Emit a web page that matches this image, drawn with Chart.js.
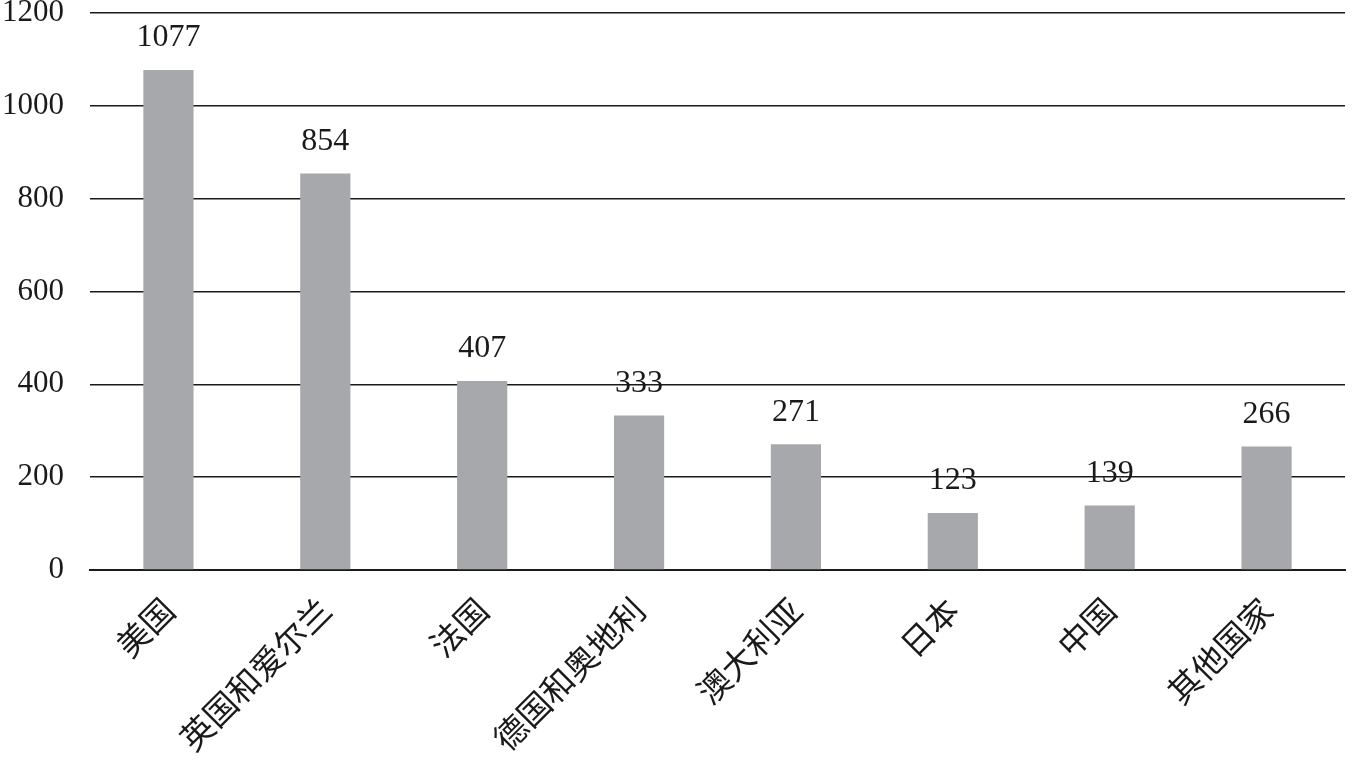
<!DOCTYPE html>
<html>
<head>
<meta charset="utf-8">
<script src="https://cdn.jsdelivr.net/npm/chart.js@4/dist/chart.umd.min.js"></script>
<style>
  html, body { margin: 0; padding: 0; background: #fff; }
  #wrap { width: 1356px; height: 762px; }
</style>
</head>
<body>
<div id="wrap"><canvas id="countries"></canvas></div>
<script>
const labels = ['美国', '英国和爱尔兰', '法国', '德国和奥地利', '澳大利亚', '日本', '中国', '其他国家'];
const counts = [1077, 854, 407, 333, 271, 123, 139, 266];
const yTicks = [0, 200, 400, 600, 800, 1000, 1200];

const serif = '"Liberation Serif", "DejaVu Serif", serif';
const cjk = '"Noto Sans CJK SC", sans-serif';

// draw the value above each bar
const valueLabels = {
    id: 'valueLabels',
    afterDatasetsDraw(chart) {
        const ctx = chart.ctx;
        const meta = chart.getDatasetMeta(0);
        ctx.save();
        ctx.font = '32px ' + serif;
        ctx.fillStyle = '#1a1a1a';
        ctx.textAlign = 'center';
        ctx.textBaseline = 'middle';
        meta.data.forEach((bar, i) => {
            ctx.fillText(counts[i], bar.x, bar.y - 32);
        });
        ctx.restore();
    }
};

const data = {
    labels: labels,
    datasets: [{
        data: counts,
        backgroundColor: '#a7a8ab',
        borderWidth: 0,
        categoryPercentage: 1,
        barPercentage: 0.32
    }]
};

const config = {
    type: 'bar',
    data: data,
    plugins: [valueLabels],
    options: {
        responsive: true,
        maintainAspectRatio: false,
        animation: false,
        layout: { padding: { top: 0, right: 11, left: 0, bottom: 0 } },
        plugins: {
            legend: { display: false },
            tooltip: { enabled: false }
        },
        scales: {
            x: {
                grid: { display: false, drawTicks: false },
                border: { color: '#1a1a1a', width: 2 },
                ticks: {
                    color: '#1a1a1a',
                    font: { family: cjk, size: 33 },
                    minRotation: 45,
                    maxRotation: 45,
                    autoSkip: false,
                    padding: 20
                },
                afterFit(scale) { scale.height = 192; }
            },
            y: {
                min: 0,
                max: 1200,
                afterBuildTicks(scale) {
                    scale.ticks = yTicks.map(v => ({ value: v }));
                },
                grid: {
                    color: '#1a1a1a',
                    lineWidth: 1.5,
                    drawTicks: false
                },
                border: { display: false },
                ticks: {
                    color: '#1a1a1a',
                    font: { family: serif, size: 31 },
                    padding: 26,
                    callback: v => String(v)
                },
                afterFit(scale) {
                    scale.width = 90;
                    scale.paddingTop = 13;
                }
            }
        }
    }
};

new Chart(document.getElementById('countries'), config);
</script>
</body>
</html>
